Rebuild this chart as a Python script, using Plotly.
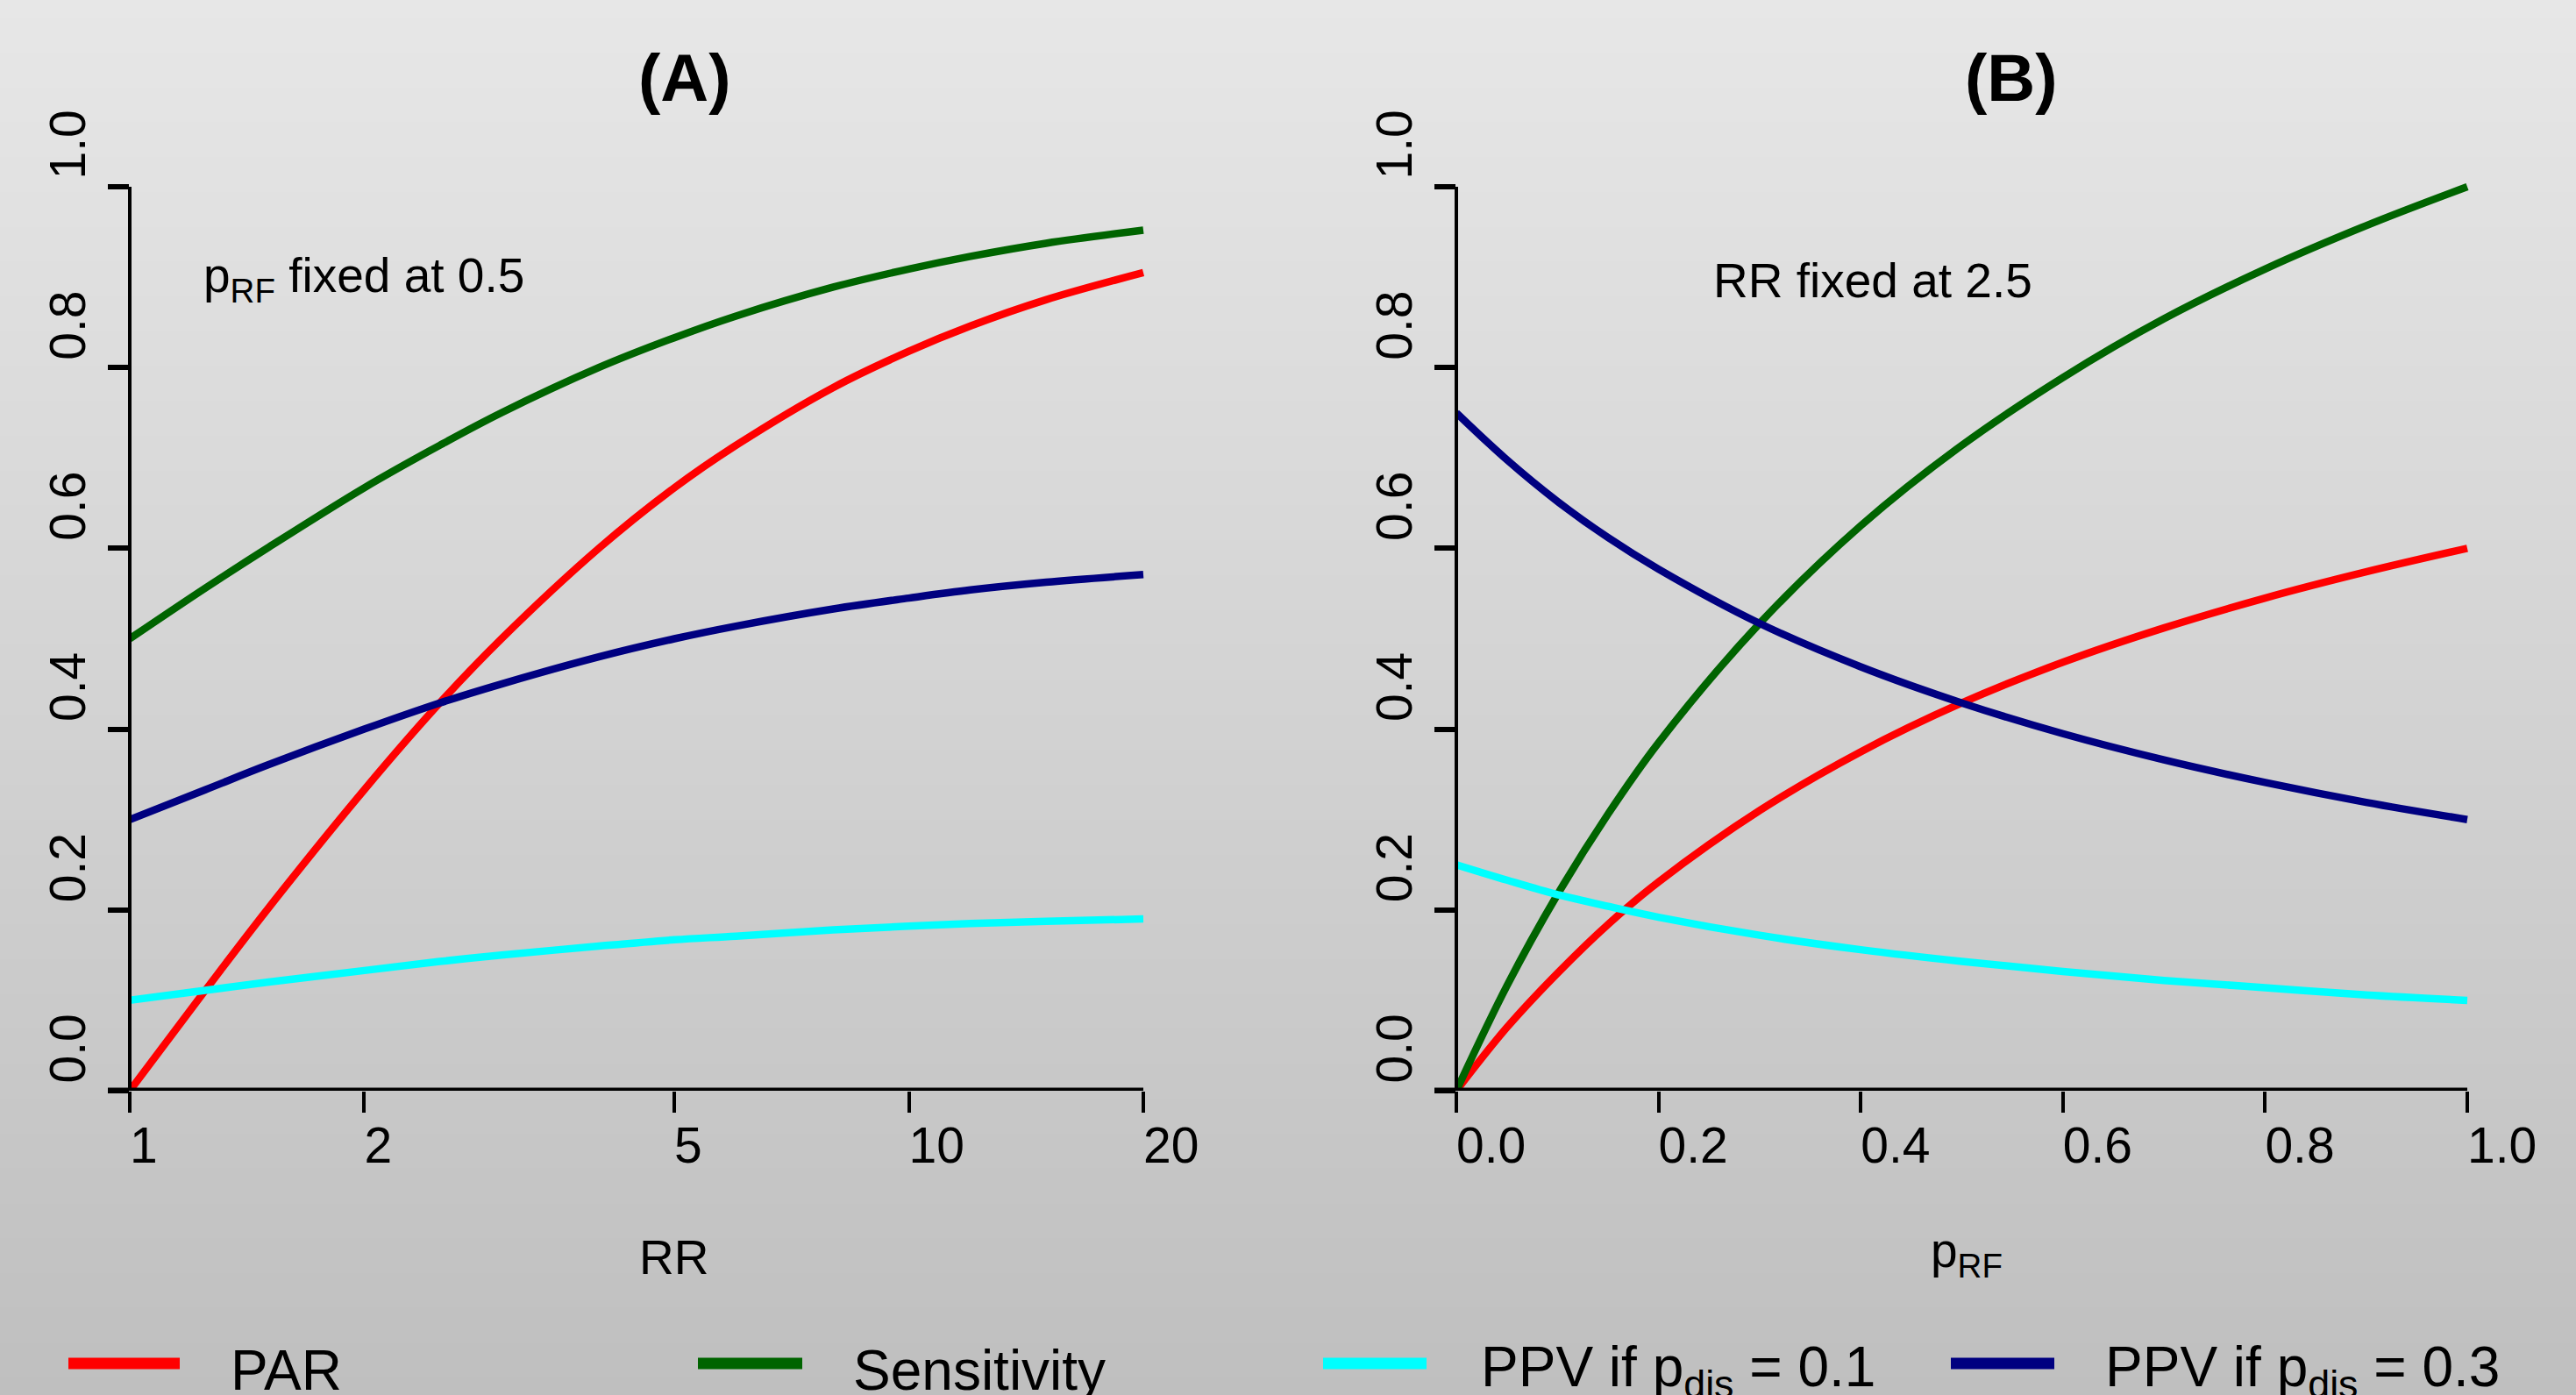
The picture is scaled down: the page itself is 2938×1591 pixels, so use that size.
import math
import plotly.graph_objects as go

# ---------------- data ----------------
rr = [1, 1.25, 1.5, 2, 2.5, 3, 4, 5, 6, 8, 10, 12, 15, 20]
a_par = [0.0, 0.111, 0.2, 0.333, 0.429, 0.5, 0.6, 0.667, 0.714, 0.778, 0.818, 0.846, 0.875, 0.905]
a_sens = [0.5, 0.556, 0.6, 0.667, 0.714, 0.75, 0.8, 0.833, 0.857, 0.889, 0.909, 0.923, 0.9375, 0.952]
a_ppv1 = [0.1, 0.111, 0.12, 0.133, 0.143, 0.15, 0.16, 0.167, 0.171, 0.178, 0.182, 0.185, 0.1875, 0.19]
a_ppv3 = [0.3, 0.333, 0.36, 0.4, 0.429, 0.45, 0.48, 0.5, 0.514, 0.533, 0.545, 0.554, 0.5625, 0.571]

prf = [0, 0.05, 0.1, 0.15, 0.2, 0.3, 0.4, 0.5, 0.6, 0.7, 0.8, 0.9, 1.0]
b_par = [0.0, 0.070, 0.130, 0.184, 0.231, 0.310, 0.375, 0.429, 0.474, 0.512, 0.545, 0.574, 0.6]
b_sens = [0.0, 0.116, 0.217, 0.306, 0.385, 0.517, 0.625, 0.714, 0.789, 0.854, 0.909, 0.957, 1.0]
b_ppv1 = [0.25, 0.233, 0.217, 0.204, 0.192, 0.172, 0.156, 0.143, 0.132, 0.122, 0.114, 0.106, 0.1]
b_ppv3 = [0.75, 0.698, 0.652, 0.612, 0.577, 0.517, 0.469, 0.429, 0.395, 0.366, 0.341, 0.319, 0.3]

a_xticks = [1, 2, 5, 10, 20]
a_xlabels = ["1", "2", "5", "10", "20"]
b_xticks = [0, 0.2, 0.4, 0.6, 0.8, 1.0]
b_xlabels = ["0.0", "0.2", "0.4", "0.6", "0.8", "1.0"]
yticks = [0, 0.2, 0.4, 0.6, 0.8, 1.0]
ylabels = ["0.0", "0.2", "0.4", "0.6", "0.8", "1.0"]

series_names = ["PAR", "Sensitivity", "PPV if p<sub>dis</sub> = 0.1", "PPV if p<sub>dis</sub> = 0.3"]
series_colors = ["#ff0000", "#006400", "#00ffff", "#000080"]

# ---------------- layout geometry ----------------
W, H = 2938, 1591
FONT = "Liberation Sans, Arial, Helvetica, sans-serif"


def px(x):
    return x / W


def py(y):
    return 1 - y / H


def pad_label(s):
    # left-align the label on its tick (R style) by prefixing blank width
    n = sum(2 if ch.isdigit() else 1 for ch in s)
    return "\u00a0" * n + s


PAD = 14
a_left, a_right = 148, 1304
b_left, b_right = 1661, 2814
y_bot, y_top = 1244, 213
LW = 8.5

fig = go.Figure()

a_series = [a_par, a_sens, a_ppv1, a_ppv3]
b_series = [b_par, b_sens, b_ppv1, b_ppv3]
for vals, col, name in zip(a_series, series_colors, series_names):
    fig.add_trace(go.Scatter(x=rr, y=vals, mode="lines", name=name, showlegend=False,
                             line=dict(color=col, width=LW, shape="spline"),
                             xaxis="x", yaxis="y"))
for vals, col, name in zip(b_series, series_colors, series_names):
    fig.add_trace(go.Scatter(x=prf, y=vals, mode="lines", name=name, showlegend=False,
                             line=dict(color=col, width=LW, shape="spline"),
                             xaxis="x2", yaxis="y2"))

a_span = a_right - a_left
b_span = b_right - b_left
y_span = y_bot - y_top

tickfont = dict(family=FONT, size=57, color="black")
common_x = dict(showgrid=False, zeroline=False, showline=False, ticks="outside",
                ticklen=24, tickwidth=4, tickcolor="black", tickfont=tickfont,
                tickmode="array", ticklabelstandoff=-11, automargin=False)
common_y = dict(showgrid=False, zeroline=False, showline=False, ticks="outside",
                ticklen=24, tickwidth=6, tickcolor="black", tickfont=tickfont,
                tickmode="array", tickvals=yticks,
                ticktext=[pad_label(s) for s in ylabels], tickangle=-90,
                range=[0, 1 + PAD / y_span], ticklabelstandoff=3, automargin=False)

fig.update_layout(
    width=W, height=H, autosize=False,
    margin=dict(l=0, r=0, t=0, b=0, pad=0, autoexpand=False),
    paper_bgcolor="#d3d3d3", plot_bgcolor="rgba(0,0,0,0)",
    showlegend=False,
    font=dict(family=FONT, color="black"),
    xaxis=dict(type="log", domain=[px(a_left), px(a_right + PAD)],
               range=[0, math.log10(20) * (a_span + PAD) / a_span],
               tickvals=a_xticks, ticktext=[pad_label(s) for s in a_xlabels],
               anchor="y", **common_x),
    yaxis=dict(domain=[py(y_bot), py(y_top - PAD)], anchor="x", **common_y),
    xaxis2=dict(domain=[px(b_left), px(b_right + PAD)],
                range=[0, (b_span + PAD) / b_span],
                tickvals=b_xticks, ticktext=[pad_label(s) for s in b_xlabels],
                anchor="y2", **common_x),
    yaxis2=dict(domain=[py(y_bot), py(y_top - PAD)], anchor="x2", **common_y),
)

shapes = []
# background gradient
N = 80
top_c, bot_c = 231, 191
for i in range(N):
    t = (i + 0.5) / N
    c = round(bot_c + (top_c - bot_c) * t)
    shapes.append(dict(type="rect", xref="paper", yref="paper", x0=-0.1, x1=1.1,
                       y0=i / N - (0.1 if i == 0 else 0),
                       y1=(i + 1) / N + (0.1 if i == N - 1 else 0.001), layer="below",
                       line=dict(width=0), fillcolor=f"rgb({c},{c},{c})"))

# axis lines
for xr, yr, span in (("x domain", "y", a_span), ("x2 domain", "y2", b_span)):
    shapes.append(dict(type="line", xref=xr, yref=yr, x0=-25 / (span + PAD),
                       x1=span / (span + PAD), y0=0, y1=0,
                       line=dict(color="black", width=7)))
    shapes.append(dict(type="line", xref=xr, yref=yr, x0=0, x1=0, y0=0, y1=1,
                       line=dict(color="black", width=4)))

# legend keys
leg_lines = [(78, 205), (796, 915), (1509, 1627), (2225, 2343)]
leg_text_x = [261, 971, 1687, 2399]
leg_y = 1555
for (x0, x1), col in zip(leg_lines, series_colors):
    shapes.append(dict(type="line", xref="paper", yref="paper", x0=px(x0), x1=px(x1),
                       y0=py(leg_y), y1=py(leg_y), line=dict(color=col, width=13)))

annotations = []
for tx, name in zip(leg_text_x, series_names):
    annotations.append(dict(text=name, x=px(tx), y=py(1563),
                            xanchor="left", yanchor="middle",
                            font=dict(family=FONT, size=64, color="black")))

annotations += [
    dict(text="<b>(A)</b>", x=px(726), y=py(88), xanchor="left", yanchor="middle",
         font=dict(family=FONT, size=76, color="black")),
    dict(text="<b>(B)</b>", x=px(2239), y=py(88), xanchor="left", yanchor="middle",
         font=dict(family=FONT, size=76, color="black")),
    dict(text="p<sub>RF</sub> fixed at 0.5", x=px(230), y=py(318), xanchor="left",
         yanchor="middle", font=dict(family=FONT, size=55, color="black")),
    dict(text="RR fixed at 2.5", x=px(1952), y=py(320), xanchor="left",
         yanchor="middle", font=dict(family=FONT, size=55, color="black")),
    dict(text="RR", x=px(727), y=py(1434), xanchor="left", yanchor="middle",
         font=dict(family=FONT, size=55, color="black")),
    dict(text="p<sub>RF</sub>", x=px(2200), y=py(1430), xanchor="left", yanchor="middle",
         font=dict(family=FONT, size=55, color="black")),
]
for a in annotations:
    a["xref"] = "paper"
    a["yref"] = "paper"
    a["showarrow"] = False

fig.update_layout(shapes=shapes, annotations=annotations)
fig.write_html("out.html", config={"displayModeBar": False},
               post_script="document.body.style.margin='0';")
